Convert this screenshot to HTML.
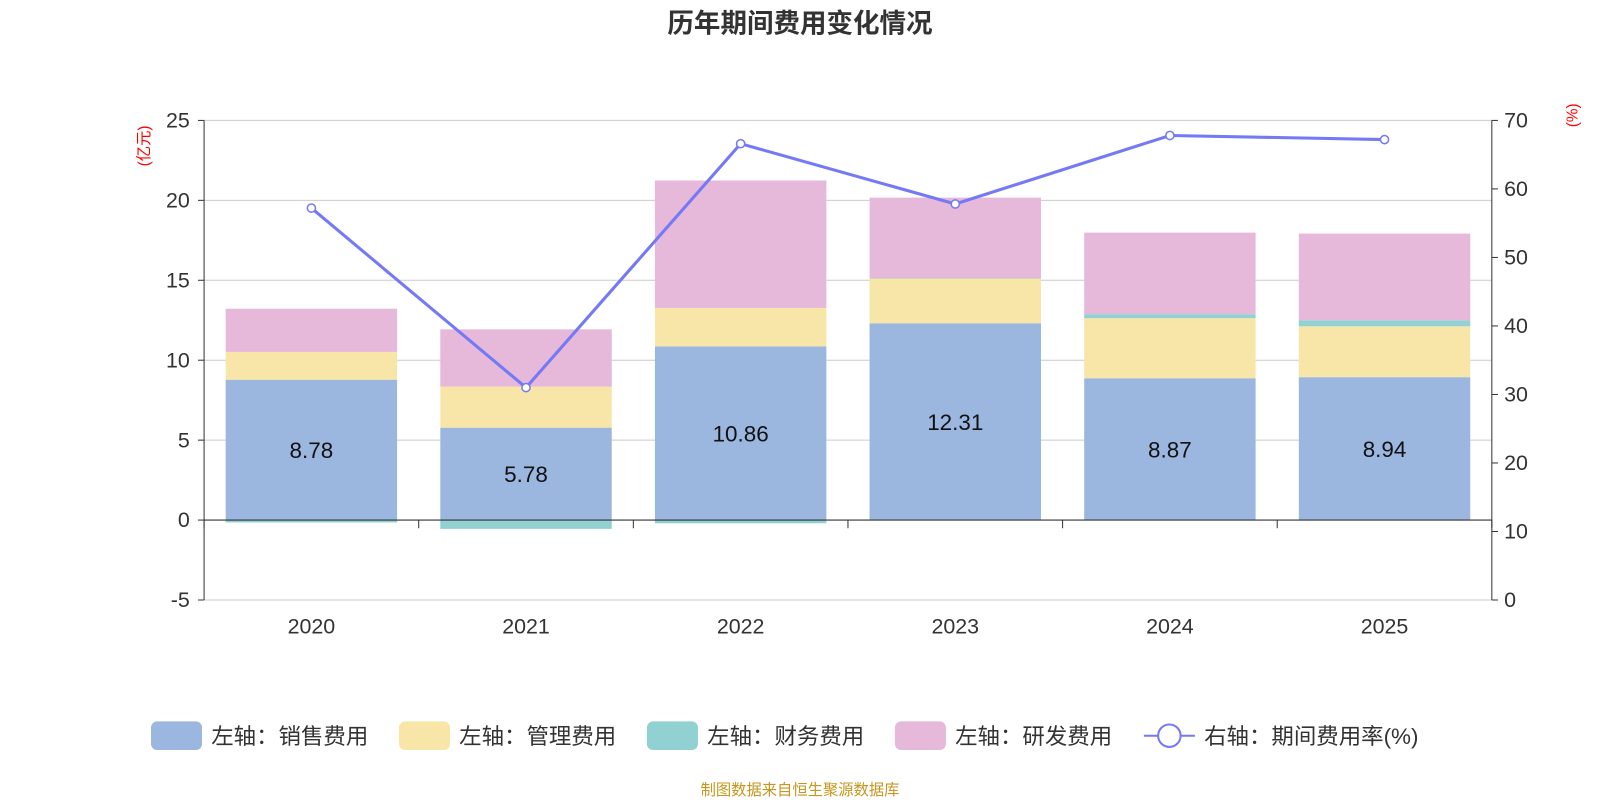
<!DOCTYPE html>
<html><head><meta charset="utf-8">
<style>
html,body{margin:0;padding:0;background:#fff;}
svg{display:block;font-family:"Liberation Sans","Noto Sans CJK SC",sans-serif;}
</style></head>
<body>
<svg id="chart" width="1600" height="800" viewBox="0 0 1568 784">
<text x="784" y="32" text-anchor="middle" font-size="26" font-weight="bold" fill="#333">历年期间费用变化情况</text>
<text x="146" y="143" font-size="15" fill="red" transform="rotate(-90 146 143)" text-anchor="middle">(亿元)</text>
<text x="1546" y="113" font-size="15" fill="red" transform="rotate(-90 1546 113)" text-anchor="middle">(%)</text>
<g id="grid"></g><g id="bars"></g><g id="axes"></g><g id="line"></g><g id="legend"></g>
<text x="784" y="779" text-anchor="middle" font-size="15" fill="#c8961e">制图数据来自恒生聚源数据库</text>
</svg>
<script>
const categories=["2020","2021","2022","2023","2024","2025"];
const sales=[8.78,5.78,10.86,12.31,8.87,8.94];
const mgmt=[1.74,2.57,2.41,2.81,3.76,3.18];
const finance=[-0.15,-0.55,-0.2,0.02,0.25,0.38];
const rd=[2.7,3.58,7.97,5.03,5.1,5.42];
const rate=[57.2,31.0,66.6,57.8,67.8,67.2];
const leftTicks=[-5,0,5,10,15,20,25];
const rightTicks=[0,10,20,30,40,50,60,70];

const NS="http://www.w3.org/2000/svg";
function mk(tag,attrs,parent,text){const e=document.createElementNS(NS,tag);for(const k in attrs)e.setAttribute(k,attrs[k]);if(text!==undefined)e.textContent=text;parent.appendChild(e);return e;}
const X0=200,X1=1462,YT=118,YB=588;
const yL=v=>YB-(v-(-5))/30*(YB-YT);
const yR=v=>YB-v/70*(YB-YT);
const band=(X1-X0)/categories.length;
const xC=i=>X0+band*(i+0.5);
const bw=168;
const grid=document.getElementById('grid'),bars=document.getElementById('bars'),axes=document.getElementById('axes'),lineG=document.getElementById('line'),leg=document.getElementById('legend');

leftTicks.forEach(t=>{
 const y=yL(t);
 if(t!==0){const g=mk('line',{x1:X0,x2:X1,y1:y,y2:y,stroke:'#ccc','stroke-width':1},grid);
 
 }
 const tk=mk('line',{x1:X0-6,x2:X0,y1:y,y2:y,stroke:'#333'},axes);
 
 
 const l=mk('text',{x:X0-14,y:y+7,'text-anchor':'end','font-size':21,fill:'#333'},axes,String(t));
 
 
});
rightTicks.forEach(t=>{
 const y=yR(t);
 const tk=mk('line',{x1:X1,x2:X1+6,y1:y,y2:y,stroke:'#333'},axes);
 
 
 const l=mk('text',{x:X1+12,y:y+7,'font-size':21,fill:'#333'},axes,String(t));
 
 
});
const la=mk('line',{x1:X0,x2:X0,y1:YT,y2:YB,stroke:'#333'},axes);

const ra=mk('line',{x1:X1,x2:X1,y1:YT,y2:YB,stroke:'#333'},axes);

const ba=mk('line',{x1:X0,x2:X1,y1:YB,y2:YB,stroke:'#ccc'},grid);


const colors={sales:'#9bb7e0',mgmt:'#f8e6a8',fin:'#91d1d2',rd:'#e6b8d9'};
categories.forEach((c,i)=>{
 const x=xC(i)-bw/2;let pos=0,neg=0;
 const segs=[[sales[i],colors.sales,'bar-sales'],[mgmt[i],colors.mgmt,'bar-management'],[finance[i],colors.fin,'bar-finance'],[rd[i],colors.rd,'bar-rd']];
 segs.forEach(([v,col,name])=>{
  let a,b;
  if(v>=0){a=pos;b=pos+v;pos=b;}else{a=neg;b=neg+v;neg=b;}
  const y1=yL(Math.max(a,b)),y2=yL(Math.min(a,b));
  const r=mk('rect',{x:x,y:y1,width:bw,height:Math.max(y2-y1,0.5),fill:col},bars);
  
  
 });
 const t=mk('text',{x:xC(i),y:yL(sales[i]/2)+8,'text-anchor':'middle','font-size':22,fill:'#111'},bars,sales[i].toFixed(2));
 
 
 const cl=mk('text',{x:xC(i),y:621,'text-anchor':'middle','font-size':21,fill:'#333'},axes,c);
 
 
});
const za=mk('line',{x1:X0,x2:X1,y1:yL(0),y2:yL(0),stroke:'#333'},axes);

for(let i=0;i<=categories.length;i++){
 const tx=X0+band*i;
 const tk=mk('line',{x1:tx,x2:tx,y1:yL(0),y2:yL(0)+8,stroke:'#333'},axes);
 
 
}
const pts=rate.map((v,i)=>xC(i)+','+yR(v)).join(' ');
const pl=mk('polyline',{points:pts,fill:'none',stroke:'#7479f5','stroke-width':3},lineG);


rate.forEach((v,i)=>{
 const c=mk('circle',{cx:xC(i),cy:yR(v),r:4,fill:'#fff',stroke:'#7479f5','stroke-width':1.5},lineG);
 
 
});
const items=[['左轴：销售费用',colors.sales,148],['左轴：管理费用',colors.mgmt,391],['左轴：财务费用',colors.fin,634],['左轴：研发费用',colors.rd,877]];
items.forEach(([t,col,x])=>{
 const g=mk('g',{},leg);
 
 
 mk('rect',{x:x,y:707,width:50,height:28,rx:6,fill:col},g);
 mk('text',{x:x+59,y:729,'font-size':22,fill:'#333'},g,t);
});
const g=mk('g',{},leg);


mk('line',{x1:1121,x2:1171,y1:721,y2:721,stroke:'#7479f5','stroke-width':2},g);
mk('circle',{cx:1146,cy:721,r:11,fill:'#fff',stroke:'#7479f5','stroke-width':2},g);
mk('text',{x:1180,y:729,'font-size':22,fill:'#333'},g,'右轴：期间费用率(%)');
</script>
</body></html>
